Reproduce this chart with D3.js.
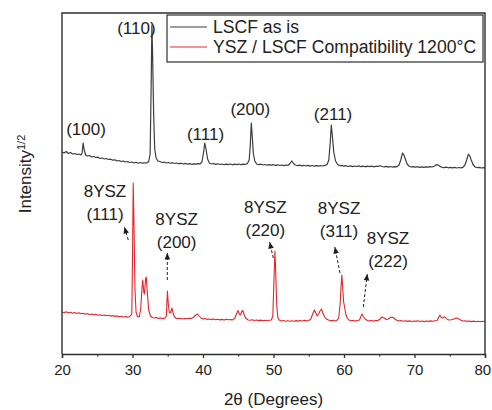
<!DOCTYPE html>
<html>
<head>
<meta charset="utf-8">
<script src="https://cdn.jsdelivr.net/npm/d3@7"></script>
<style>
  html, body { margin: 0; padding: 0; background: #fff; }
  svg { display: block; font-family: "Liberation Sans", Arial, sans-serif; }
</style>
</head>
<body>
<svg id="chart" width="492" height="410"></svg>
<script>
// XRD patterns: [2θ (degrees), intensity^1/2 (a.u., traces offset)]
const lscfPattern = [
  [20.0,202],[20.3,201],[20.6,202.5],[20.9,200.5],[21.2,201.5],[21.5,200],[21.8,200.5],[22.1,199.5],[22.4,200],[22.7,199],
  [22.85,201],[23.0,211],[23.15,204],[23.35,199],[23.6,198],[23.9,198.5],[24.2,197],[24.5,197.5],[24.8,196.5],[25.1,196.8],
  [25.4,195.5],[25.7,196],[26.0,195],[26.3,195.5],[26.6,194.5],[26.9,194.8],[27.2,193.8],[27.5,194.2],[27.8,193],[28.1,193.5],
  [28.4,192.5],[28.7,193],[29.0,192],[29.3,192.5],[29.6,191.5],[29.9,192],[30.2,191],[30.5,191.8],[30.8,190.8],[31.1,191.5],
  [31.4,190.8],[31.7,191.2],[32.0,191],[32.3,192.5],[32.5,200],[32.65,270],[32.75,329],[32.85,300],[33.0,240],[33.15,205],
  [33.35,196],[33.6,193],[33.9,192.5],[34.2,191.5],[34.5,192],[34.8,191],[35.1,191.5],[35.4,190.8],[35.7,191.2],[36.0,190.5],
  [36.3,191],[36.6,190.2],[36.9,190.8],[37.2,190],[37.5,190.6],[37.8,189.8],[38.1,190.4],[38.4,189.7],[38.7,190.2],[39.0,189.8],
  [39.3,190.4],[39.6,190.2],[39.85,192],[40.05,200],[40.25,211],[40.45,204],[40.65,195],[40.9,191],[41.2,190],[41.5,190.5],
  [41.8,189.6],[42.1,190.2],[42.4,189.5],[42.7,190],[43.0,189.3],[43.3,189.9],[43.6,189.4],[43.9,190],[44.2,189.2],[44.5,189.8],
  [44.8,189.4],[45.1,190],[45.4,189.3],[45.7,189.8],[46.0,189.5],[46.3,190.5],[46.55,194],[46.7,208],[46.85,231],[47.0,216],
  [47.15,200],[47.35,193],[47.6,190],[47.9,189.3],[48.2,189.8],[48.5,189],[48.8,189.5],[49.1,188.8],[49.4,189.4],[49.7,188.9],
  [50.0,189.3],[50.3,188.6],[50.6,189.2],[50.9,188.5],[51.2,189],[51.5,188.4],[51.8,189],[52.1,188.8],[52.35,190.5],[52.6,193],
  [52.85,190.5],[53.1,189],[53.4,188.3],[53.7,188.8],[54.0,188.2],[54.3,188.7],[54.6,188],[54.9,188.6],[55.2,187.9],[55.5,188.5],
  [55.8,187.8],[56.1,188.4],[56.4,187.9],[56.7,188.5],[57.0,188],[57.3,188.6],[57.6,189.5],[57.85,194],[58.05,212],[58.2,229],
  [58.35,218],[58.55,202],[58.8,193],[59.1,189.5],[59.4,188.3],[59.7,188.6],[60.0,187.8],[60.3,188.3],[60.6,187.5],[60.9,188.1],
  [61.2,187.4],[61.5,188],[61.8,187.5],[62.1,188.1],[62.4,187.3],[62.7,187.9],[63.0,187.2],[63.3,187.8],[63.6,187.3],[63.9,187.9],
  [64.2,187.2],[64.5,187.7],[64.8,187.6],[65.1,188.3],[65.4,187.5],[65.7,187.2],[66.0,187.6],[66.3,186.9],[66.6,187.5],[66.9,186.8],
  [67.2,187.3],[67.5,187.2],[67.8,189],[68.05,194],[68.3,201],[68.5,199],[68.7,195],[68.95,190],[69.2,188],[69.5,187],
  [69.8,187.4],[70.1,186.8],[70.4,187.3],[70.7,186.6],[71.0,187.2],[71.3,186.7],[71.6,187.2],[71.9,186.8],[72.2,187.3],[72.5,187],
  [72.8,187.8],[73.1,189.3],[73.35,189],[73.6,187.6],[73.9,186.7],[74.2,186.4],[74.5,186.9],[74.8,186.2],[75.1,186.7],[75.4,186.1],
  [75.7,186.6],[76.0,186],[76.3,186.5],[76.6,186.1],[76.9,186.8],[77.15,189],[77.4,194],[77.65,200],[77.85,198],[78.05,194],
  [78.3,189.5],[78.6,187],[78.9,186.3],[79.2,186.6],[79.5,186],[79.8,186.4],[80.0,186]
];

const yszPattern = [
  [20.0,42],[20.3,41.2],[20.6,42.3],[20.9,41],[21.2,41.8],[21.5,40.8],[21.8,41.5],[22.1,40.5],[22.4,41.3],[22.7,40.2],
  [23.0,40.8],[23.3,39.8],[23.6,40.4],[23.9,39.5],[24.2,40],[24.5,39.2],[24.8,39.7],[25.1,38.8],[25.4,39.3],[25.7,38.5],
  [26.0,39],[26.3,38.2],[26.6,38.7],[26.9,37.9],[27.2,38.4],[27.5,37.6],[27.8,38.1],[28.1,37.3],[28.4,37.8],[28.7,37],
  [29.0,37.5],[29.3,36.9],[29.6,37.3],[29.9,40],[30.0,95],[30.1,171],[30.2,135],[30.35,65],[30.5,42],[30.7,37.5],
  [30.95,37],[31.15,44],[31.35,66],[31.45,74],[31.6,62],[31.7,60],[31.85,75],[31.95,77],[32.1,62],[32.3,44],
  [32.55,38],[32.8,36.5],[33.1,36],[33.4,36.4],[33.7,35.6],[34.0,36],[34.3,35.4],[34.6,36],[34.8,38],[34.95,63],
  [35.1,48],[35.25,41],[35.45,42],[35.6,46],[35.75,41],[35.95,37],[36.2,35.8],[36.5,35.4],[36.8,35.8],[37.1,35],
  [37.4,35.5],[37.7,35.2],[38.0,35.8],[38.3,35.5],[38.6,36.5],[38.9,38.5],[39.2,40],[39.45,38],[39.7,36],[40.0,35],
  [40.3,35.4],[40.6,34.6],[40.9,35],[41.2,34.4],[41.5,34.9],[41.8,34.2],[42.1,34.7],[42.4,34.1],[42.7,34.6],[43.0,34],
  [43.3,34.8],[43.6,34.2],[43.9,34.4],[44.2,34.1],[44.5,35.5],[44.75,40],[44.95,43.5],[45.15,40],[45.3,39],[45.5,42.5],
  [45.65,43.5],[45.85,39],[46.1,35.5],[46.4,34],[46.7,33.8],[47.0,34.2],[47.3,33.5],[47.6,34],[47.9,33.4],[48.2,33.9],
  [48.5,33.3],[48.8,33.8],[49.1,33.2],[49.4,33.7],[49.7,34],[49.9,38],[50.05,70],[50.2,103],[50.3,85],[50.45,50],
  [50.6,37],[50.8,34],[51.1,33],[51.4,33.5],[51.7,32.8],[52.0,33.3],[52.3,32.7],[52.6,33.2],[52.9,32.8],[53.2,33.4],
  [53.5,32.9],[53.8,33.5],[54.1,33],[54.4,33.6],[54.7,33.1],[55.0,33.5],[55.3,35],[55.55,40],[55.8,44],[56.0,41],
  [56.2,38],[56.4,40],[56.6,43],[56.8,45],[57.0,41],[57.25,37],[57.5,35],[57.8,34],[58.1,33.2],[58.4,33.6],
  [58.7,33],[59.0,33.8],[59.25,36],[59.45,50],[59.6,70],[59.7,79],[59.8,68],[59.95,52],[60.1,46],[60.25,40],
  [60.45,36],[60.7,34],[61.0,33.2],[61.3,33.6],[61.6,32.9],[61.9,33.5],[62.2,34],[62.4,37.5],[62.55,40],[62.75,37.5],
  [63.0,35],[63.3,33.5],[63.6,33],[63.9,33.6],[64.2,32.9],[64.5,33.4],[64.8,33.5],[65.1,34.8],[65.4,37],[65.7,36],
  [66.0,34.5],[66.3,35],[66.6,36.6],[66.9,36.8],[67.2,35],[67.5,33.8],[67.8,33],[68.1,33.4],[68.4,32.7],[68.7,33.2],
  [69.0,32.6],[69.3,33.1],[69.6,32.5],[69.9,33],[70.2,32.6],[70.5,33.2],[70.8,32.5],[71.1,33],[71.4,32.4],[71.7,33],
  [72.0,32.6],[72.3,33.1],[72.6,32.8],[72.9,33.2],[73.2,33.5],[73.45,37],[73.6,39],[73.8,36.5],[74.0,36],[74.2,37.2],
  [74.4,36.5],[74.65,34.5],[74.9,34],[75.2,34.3],[75.5,34.8],[75.8,35.8],[76.0,36],[76.3,35],[76.6,33.8],[76.9,33],
  [77.2,33.3],[77.5,32.6],[77.8,33],[78.1,32.4],[78.4,32.9],[78.7,32.3],[79.0,32.8],[79.3,32.2],[79.6,32.7],[80.0,32.5]
];

const xTicks = [20, 30, 40, 50, 60, 70, 80];
const xMinorTicks = [25, 35, 45, 55, 65, 75];

// LSCF perovskite reflections: label, centre 2θ, label baseline level
const lscfPeakLabels = [
  { text: "(100)", theta: 23.4,  level: 219 },
  { text: "(110)", theta: 30.55, level: 320 },
  { text: "(111)", theta: 40.35, level: 214 },
  { text: "(200)", theta: 46.7,  level: 239 },
  { text: "(211)", theta: 58.45, level: 234 }
];

// 8YSZ fluorite reflections with pointer arrows (tail -> head, in data units)
const yszPeakLabels = [
  { lines: ["8YSZ", "(111)"], theta: 26.1,  level: 157, tail: [29.4, 114],  head: [28.85, 127] },
  { lines: ["8YSZ", "(200)"], theta: 36.26, level: 129, tail: [34.94, 74],  head: [34.94, 101] },
  { lines: ["8YSZ", "(220)"], theta: 48.84, level: 141, tail: [49.97, 96],  head: [49.45, 112] },
  { lines: ["8YSZ", "(311)"], theta: 59.3,  level: 140, tail: [59.43, 81],  head: [58.7, 107] },
  { lines: ["8YSZ", "(222)"], theta: 66.24, level: 110, tail: [62.74, 47],  head: [63.3, 80] }
];

const legendLabels = ["LSCF as is", "YSZ / LSCF Compatibility 1200°C"];
const seriesColors = ["#3d3d3d", "#e3262e"];

const svg = d3.select("#chart");
const plot = { left: 62, right: 485, top: 13, bottom: 354 };
const ink = "#2e2e2e";

const x = d3.scaleLinear().domain([20, 80]).range([plot.left, plot.right]);
const y = d3.scaleLinear().domain([0, 341]).range([plot.bottom, plot.top]);

svg.append("rect").attr("width", 492).attr("height", 410).attr("fill", "#fff");

svg.append("defs").append("clipPath").attr("id", "plot-clip")
  .append("rect")
  .attr("x", plot.left).attr("y", plot.top)
  .attr("width", plot.right - plot.left).attr("height", plot.bottom - plot.top);

// traces
const line = d3.line().x(d => x(d[0])).y(d => y(d[1]));
const traces = svg.append("g").attr("clip-path", "url(#plot-clip)");
[lscfPattern, yszPattern].forEach((data, i) => {
  traces.append("path")
    .datum(data)
    .attr("d", line)
    .attr("fill", "none")
    .attr("stroke", seriesColors[i])
    .attr("stroke-width", i === 0 ? 1.2 : 1.1)
    .attr("stroke-linejoin", "round");
});

// frame: top, left, right
svg.append("path")
  .attr("d", `M${plot.left},${plot.bottom}V${plot.top}H${plot.right}V${plot.bottom}`)
  .attr("fill", "none").attr("stroke", ink).attr("stroke-width", 1.4);

// bottom axis
const xAxis = d3.axisBottom(x).tickValues(xTicks).tickSize(4).tickPadding(6).tickFormat(d3.format("d"));
const gx = svg.append("g").attr("transform", `translate(0,${plot.bottom})`).call(xAxis);
gx.select(".domain").attr("stroke", ink).attr("stroke-width", 1.4);
gx.selectAll(".tick line").attr("stroke", ink).attr("stroke-width", 1.3);
gx.selectAll(".tick text").attr("fill", "#222").style("font-size", "15px")
  .style("font-family", '"Liberation Sans", Arial, sans-serif');
// keep the last label inside the canvas
gx.selectAll(".tick text").filter(d => d === 80).attr("text-anchor", "end").attr("dx", "0.38em");

const gxm = svg.append("g").attr("transform", `translate(0,${plot.bottom})`)
  .call(d3.axisBottom(x).tickValues(xMinorTicks).tickSize(2.5).tickFormat(""));
gxm.select(".domain").remove();
gxm.selectAll(".tick line").attr("stroke", ink).attr("stroke-width", 1.2);

// axis titles
svg.append("text")
  .attr("x", (plot.left + plot.right) / 2).attr("y", 405)
  .attr("text-anchor", "middle").attr("fill", "#222")
  .style("font-size", "17px")
  .text("2θ (Degrees)");

const yTitle = svg.append("text")
  .attr("transform", `translate(31,174) rotate(-90)`)
  .attr("text-anchor", "middle").attr("fill", "#222")
  .style("font-size", "17px");
yTitle.append("tspan").text("Intensity");
yTitle.append("tspan").attr("dy", "-0.55em").style("font-size", "11px").text("1/2");

// LSCF peak labels
svg.append("g").selectAll("text")
  .data(lscfPeakLabels)
  .join("text")
  .attr("x", d => x(d.theta)).attr("y", d => y(d.level))
  .attr("text-anchor", "middle").attr("fill", "#222")
  .style("font-size", "17px")
  .text(d => d.text);

// 8YSZ labels and pointer arrows
svg.select("defs").append("marker")
  .attr("id", "arrowhead")
  .attr("viewBox", "-7 -3.5 8 7")
  .attr("refX", 0).attr("refY", 0)
  .attr("markerWidth", 8).attr("markerHeight", 7)
  .attr("markerUnits", "userSpaceOnUse")
  .attr("orient", "auto")
  .append("path").attr("d", "M0,0L-6.5,-2.8L-6.5,2.8Z").attr("fill", "#1e1e1e");

const ysz = svg.append("g");
yszPeakLabels.forEach(d => {
  const t = ysz.append("text")
    .attr("text-anchor", "middle").attr("fill", "#222")
    .style("font-size", "17px");
  d.lines.forEach((s, k) => {
    t.append("tspan").attr("x", x(d.theta)).attr("y", y(d.level) + k * 23).text(s);
  });
  ysz.append("path")
    .attr("d", `M${x(d.tail[0])},${y(d.tail[1])}L${x(d.head[0])},${y(d.head[1])}`)
    .attr("fill", "none").attr("stroke", "#1e1e1e").attr("stroke-width", 1)
    .attr("stroke-dasharray", "3,2")
    .attr("marker-end", "url(#arrowhead)");
});

// legend
const legend = svg.append("g");
legend.append("rect")
  .attr("x", 167).attr("y", 15).attr("width", 316).attr("height", 47)
  .attr("fill", "#fff").attr("stroke", ink).attr("stroke-width", 1.2);
legendLabels.forEach((label, i) => {
  const cy = 27 + i * 20;
  legend.append("line")
    .attr("x1", 170).attr("x2", 207).attr("y1", cy).attr("y2", cy)
    .attr("stroke", seriesColors[i]).attr("stroke-width", 1.1);
  legend.append("text")
    .attr("x", 213).attr("y", cy + 6)
    .attr("fill", "#222").style("font-size", "17.6px")
    .text(label);
});
</script>
</body>
</html>
